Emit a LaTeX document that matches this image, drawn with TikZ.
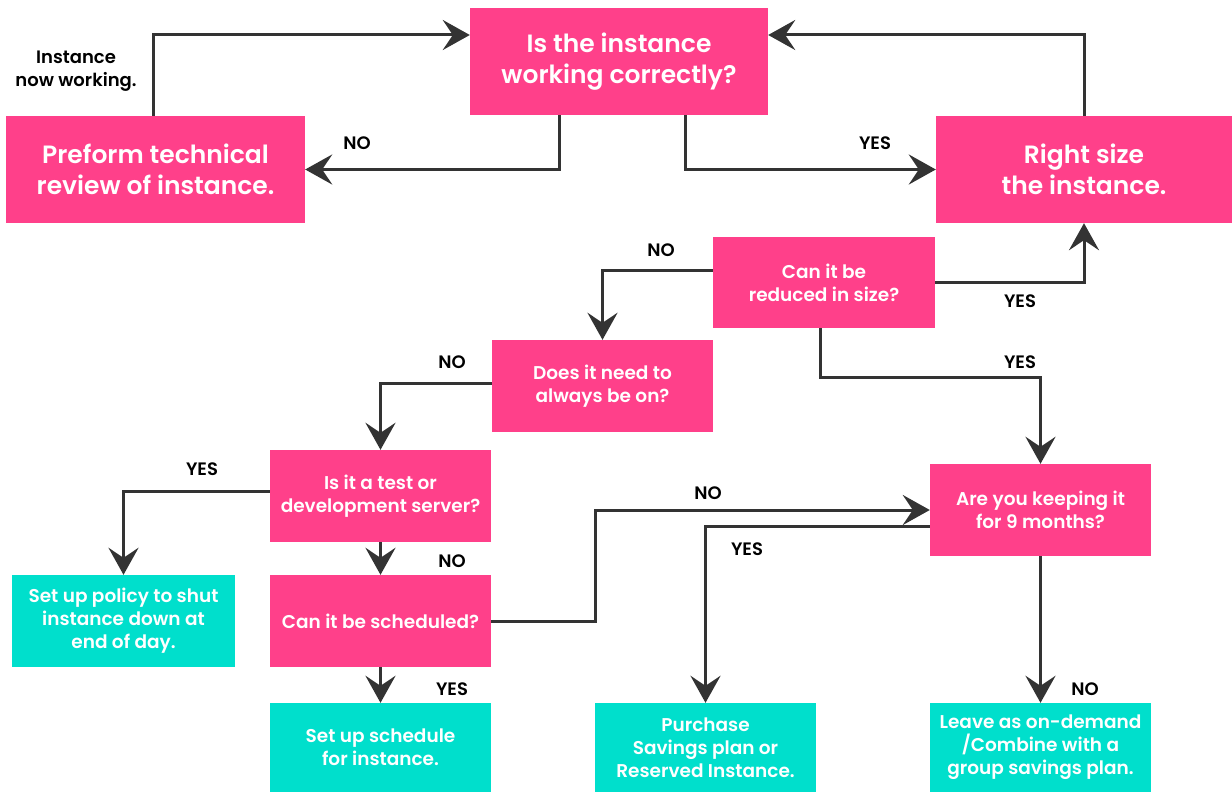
\documentclass[tikz,border=0pt]{standalone}
\usepackage{fontspec}
\setmainfont{Poppins}
\newfontfamily\boxfont{Poppins SemiBold}
\newfontfamily\lblfont{Poppins SemiBold}
\usetikzlibrary{arrows.meta,calc}
\definecolor{pinkc}{RGB}{255,64,138}
\definecolor{tealc}{RGB}{0,223,204}
\definecolor{linec}{RGB}{51,51,51}
\tikzset{
  base/.style={draw=none, inner sep=0pt, align=center, text=white},
  pinkbox/.style={base, fill=pinkc},
  tealbox/.style={base, fill=tealc},
  bigtxt/.style={font=\boxfont\fontsize{25}{31}\selectfont},
  smalltxt/.style={font=\boxfont\fontsize{18.5}{23}\selectfont},
  conn/.style={draw=linec, line width=3pt, -{Stealth[length=27pt,width=30pt,inset=10pt]}},
  lbl/.style={font=\lblfont\fontsize{18}{23}\selectfont, text=black, align=center, inner sep=0pt},
}
\begin{document}
\begin{tikzpicture}[x=1pt,y=-1pt]
\useasboundingbox (0,0) rectangle (1232,792);
% boxes
\node[pinkbox,bigtxt,minimum width=298pt,minimum height=107pt] (top) at (619,61.5) {Is the instance\\working correctly?};
\node[pinkbox,bigtxt,minimum width=299pt,minimum height=107pt] (review) at (155.5,169.5) {Preform technical\\review of instance.};
\node[pinkbox,bigtxt,minimum width=296pt,minimum height=107pt] (right) at (1084,169.5) {Right size\\the instance.};
\node[pinkbox,smalltxt,minimum width=222pt,minimum height=91pt] (reduce) at (824,282.5) {Can it be\\reduced in size?};
\node[pinkbox,smalltxt,minimum width=221pt,minimum height=92pt] (always) at (602.5,386) {Does it need to\\always be on?};
\node[pinkbox,smalltxt,minimum width=221pt,minimum height=92pt] (test) at (380.5,496) {Is it a test or\\development server?};
\node[pinkbox,smalltxt,minimum width=221pt,minimum height=92pt] (sched) at (380.5,621) {Can it be scheduled?};
\node[tealbox,smalltxt,minimum width=223pt,minimum height=92pt] (policy) at (123.5,621) {Set up policy to shut\\instance down at\\end of day.};
\node[tealbox,smalltxt,minimum width=221pt,minimum height=89pt] (schedule) at (380.5,747.5) {Set up schedule\\for instance.};
\node[pinkbox,smalltxt,minimum width=221pt,minimum height=92pt] (keep) at (1040.5,510) {Are you keeping it\\for 9 months?};
\node[tealbox,smalltxt,minimum width=221pt,minimum height=89pt] (purchase) at (705.5,747.5) {Purchase\\Savings plan or\\Reserved Instance.};
\node[tealbox,smalltxt,minimum width=221pt,minimum height=89pt] (leave) at (1040.5,747.5) {Leave as on-demand\\/Combine with a\\group savings plan.};
% connectors
\draw[conn] ([xshift=-2.5pt]review.north) |- ([yshift=26.5pt]top.west);
\draw[conn] ([xshift=-60pt]top.south) |- (review.east);
\draw[conn] ([xshift=66pt]top.south) |- (right.west);
\draw[conn] (right.north) |- ([yshift=26.5pt]top.east);
\draw[conn] (reduce.east) -| (right.south);
\draw[conn] ([yshift=12.5pt]reduce.west) -| (always.north);
\draw[conn] ([xshift=-4pt]reduce.south) |- ([yshift=86pt]keep.north) -- (keep.north);
\draw[conn] ([yshift=3pt]always.west) -| (test.north);
\draw[conn] ([yshift=5pt]test.west) -| (policy.north);
\draw[conn] (test.south) -- (sched.north);
\draw[conn] (sched.east) -- ++(104,0) |- (keep.west);
\draw[conn] ([yshift=-16pt]keep.west) -| (purchase.north);
\draw[conn] (keep.south) -- (leave.north);
\draw[conn] (sched.south) -- (schedule.north);
% labels
\node[lbl] (l1) at (76,71) {Instance\\now working.};
\node[lbl] (l2) at (357,143) {NO};
\node[lbl] (l3) at (875,143) {YES};
\node[lbl] (l4) at (1020,301) {YES};
\node[lbl] (l5) at (661,250) {NO};
\node[lbl] (l6) at (1020,362) {YES};
\node[lbl] (l7) at (452,362) {NO};
\node[lbl] (l8) at (202,469) {YES};
\node[lbl] (l9) at (452,561) {NO};
\node[lbl] (l10) at (708,493) {NO};
\node[lbl] (l11) at (747,549) {YES};
\node[lbl] (l12) at (1085,689) {NO};
\node[lbl] (l13) at (452,689) {YES};
\end{tikzpicture}
\end{document}
